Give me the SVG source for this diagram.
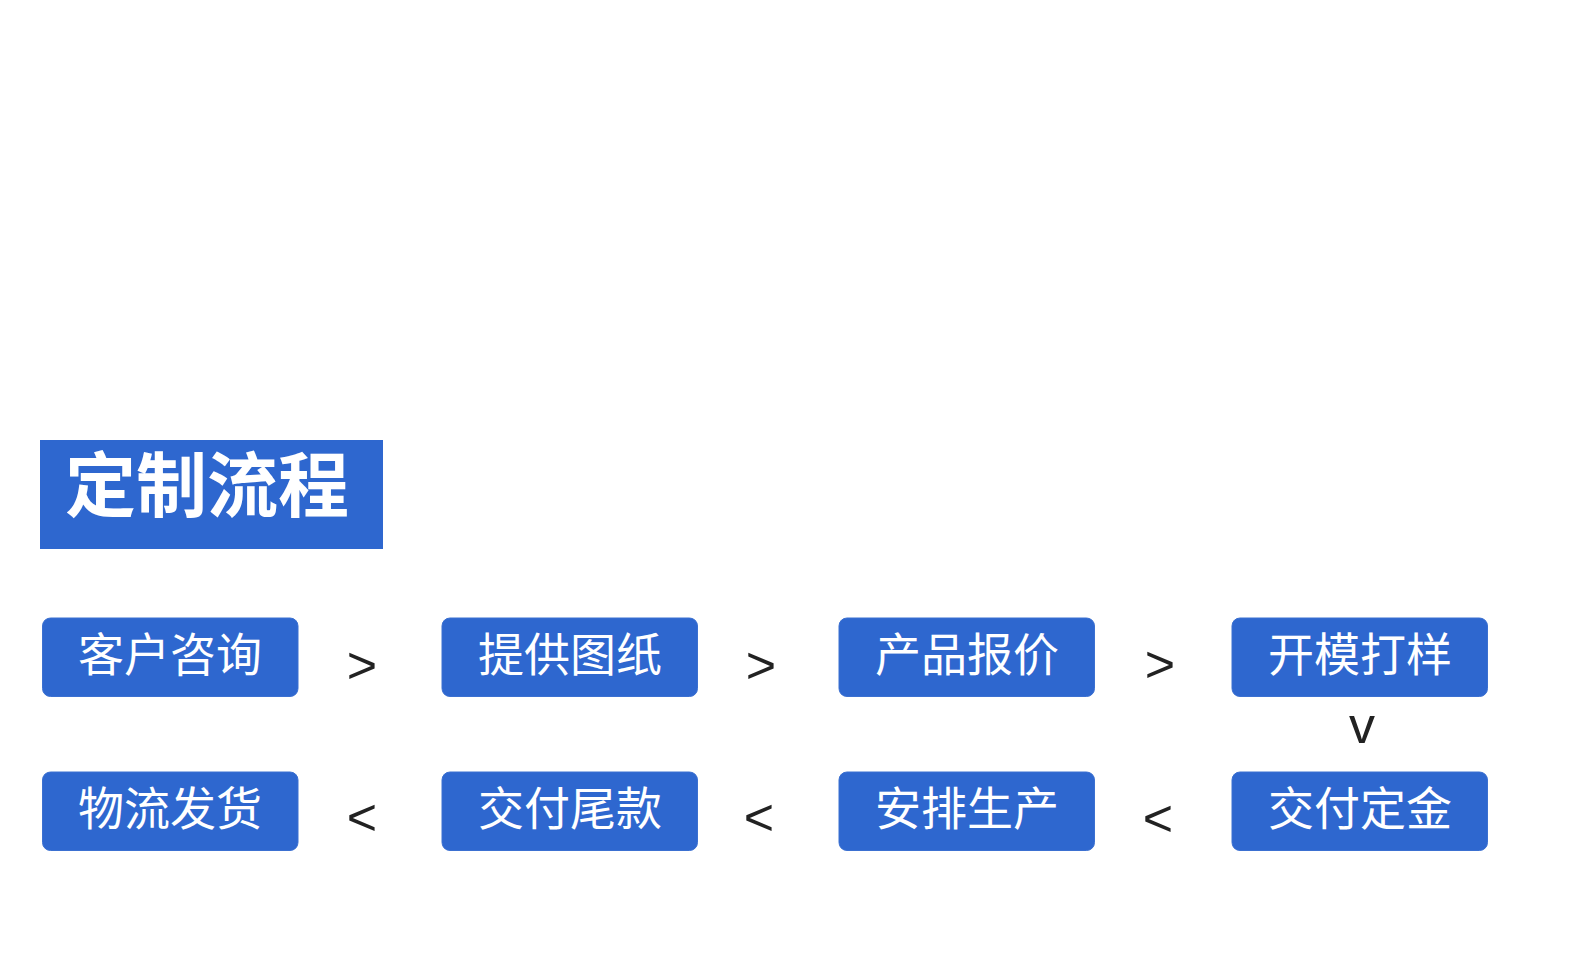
<svg xmlns="http://www.w3.org/2000/svg" width="1580" height="966" viewBox="0 0 1580 966">
<style>
.node rect{fill:#2E67CF;stroke:#3B70D1;stroke-width:1}
.node text{fill:#fff;font-family:"Noto Sans CJK SC","Noto Sans",sans-serif;font-size:46px;text-anchor:middle}
.conn text{fill:#222;font-family:"Liberation Sans","DejaVu Sans",sans-serif;font-size:52px;text-anchor:middle}
</style>
<rect width="1580" height="966" fill="#fff"/>
<g id="title">
<rect x="40" y="440" width="343" height="109" fill="#2E67CF"/>
<text x="207" y="511" fill="#fff" font-family="Noto Sans CJK SC,sans-serif" font-weight="bold" font-size="71" text-anchor="middle">定制流程</text>
</g>
<g id="n1" class="node"><rect x="42.5" y="618" width="255.5" height="78.5" rx="8"/><text x="170" y="671">客户咨询</text></g>
<g id="n2" class="node"><rect x="442" y="618" width="255.5" height="78.5" rx="8"/><text x="570" y="671">提供图纸</text></g>
<g id="n3" class="node"><rect x="839" y="618" width="255.5" height="78.5" rx="8"/><text x="967" y="671">产品报价</text></g>
<g id="n4" class="node"><rect x="1232" y="618" width="255.5" height="78.5" rx="8"/><text x="1360" y="671">开模打样</text></g>
<g id="n5" class="node"><rect x="1232" y="772" width="255.5" height="78.5" rx="8"/><text x="1360" y="825">交付定金</text></g>
<g id="n6" class="node"><rect x="839" y="772" width="255.5" height="78.5" rx="8"/><text x="967" y="825">安排生产</text></g>
<g id="n7" class="node"><rect x="442" y="772" width="255.5" height="78.5" rx="8"/><text x="570" y="825">交付尾款</text></g>
<g id="n8" class="node"><rect x="42.5" y="772" width="255.5" height="78.5" rx="8"/><text x="170" y="825">物流发货</text></g>
<g id="connectors" class="conn">
<text x="362" y="683">&gt;</text>
<text x="761" y="683">&gt;</text>
<text x="1160" y="682">&gt;</text>
<text x="1362" y="743" font-size="54">v</text>
<text x="1158" y="836">&lt;</text>
<text x="759" y="835">&lt;</text>
<text x="362" y="835">&lt;</text>
</g>
</svg>
